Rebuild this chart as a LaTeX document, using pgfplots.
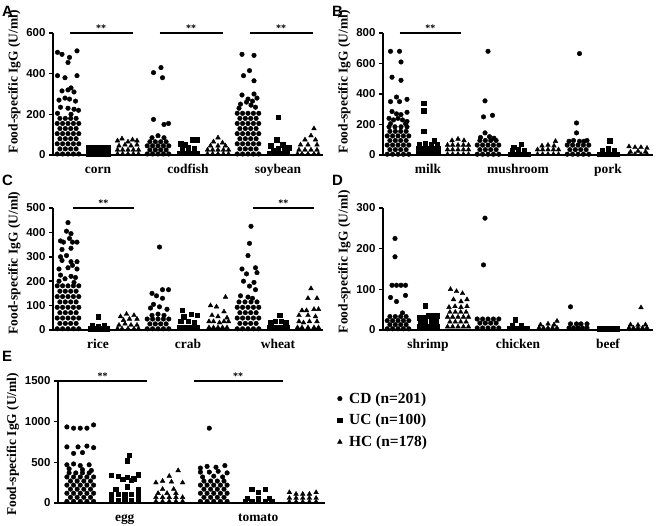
\documentclass[border=0pt]{standalone}
\usepackage{fontspec}
\setmainfont{Liberation Serif}
\setsansfont{Liberation Sans}
\usepackage{pgfplots}
\pgfplotsset{compat=1.18}
\tikzset{
 sig/.style={line width=1.4bp},
 star/.style={font=\fontsize{10}{10}\selectfont\bfseries, above, inner sep=1bp},
}
\pgfplotsset{
 panel/.style={scale only axis, width=270bp, height=122bp,
  axis x line*=bottom, axis y line*=left,
  axis line style={line width=1.8bp},
  xmin=0.5, xmax=9.5, ymin=0, clip=false,
  xtick={2,5,8},
  x tick style={draw=none},
  y tick style={line width=1.5bp, black},
  major tick length=4bp, tick align=outside,
  ylabel={Food-specific IgG (U/ml)},
  ylabel style={at={(ticklabel cs:0.57)}, font=\fontsize{13.5}{14}\selectfont\bfseries, yshift=-1bp},
  x tick label style={font=\fontsize{13.5}{15}\selectfont\bfseries, text height=9.5bp, text depth=3bp, yshift=-1bp},
  y tick label style={font=\fontsize{11.5}{12}\selectfont\sffamily\bfseries},
  /pgf/number format/assume math mode=true,
  /pgf/number format/1000 sep={},
  scaled y ticks=false},
 cd/.style={only marks, mark=*, mark size=2.3bp, black},
 uc/.style={only marks, mark=square*, mark size=2.2bp, black},
 hc/.style={only marks, mark=triangle*, mark size=2.7bp, black},
}
\begin{document}
\begin{tikzpicture}[x=1bp,y=1bp]
\useasboundingbox (0,0) rectangle (661,526);
\node[anchor=north west, inner sep=0, font=\fontsize{15}{15}\selectfont\sffamily\bfseries] at (2,520) {A};
\node[anchor=north west, inner sep=0, font=\fontsize{15}{15}\selectfont\sffamily\bfseries] at (332,520) {B};
\node[anchor=north west, inner sep=0, font=\fontsize{15}{15}\selectfont\sffamily\bfseries] at (2,351) {C};
\node[anchor=north west, inner sep=0, font=\fontsize{15}{15}\selectfont\sffamily\bfseries] at (332,351) {D};
\node[anchor=north west, inner sep=0, font=\fontsize{15}{15}\selectfont\sffamily\bfseries] at (2,175) {E};

% ---------------- A ----------------
\begin{axis}[panel, at={(53bp,371bp)}, anchor=south west, ymax=600, ytick={0,200,400,600},
  xticklabels={corn,codfish,soybean}, ylabel style={at={(ticklabel cs:0.6)}}]
\addplot[cd] coordinates {
(0.64,5)(0.82,5)(1,5)(1.18,5)(1.36,5)(0.73,30)(0.91,30)(1.09,30)(1.27,30)
(0.64,55)(0.82,55)(1,55)(1.18,55)(1.36,55)(0.73,80)(0.91,80)(1.09,80)(1.27,80)
(0.64,105)(0.82,105)(1,105)(1.18,105)(1.36,105)(0.73,130)(0.91,130)(1.09,130)(1.27,130)
(0.64,155)(0.82,155)(1,155)(1.18,155)(1.36,155)(0.73,180)(0.91,180)(1.09,180)(1.27,180)
(0.65,505)(0.8,495)(1.3,512)(1.05,480)(1,455)(0.65,390)(0.9,380)(1.3,390)(1.1,330)(1,320)(0.8,315)(1.2,310)
(0.7,270)(1.05,275)(1.25,265)(0.9,280)(0.75,235)(1,230)(1.2,225)(1.35,220)(0.65,205)(1.1,200)
(3.64,5)(3.82,5)(4,5)(4.18,5)(4.36,5)(3.73,25)(3.91,25)(4.09,25)(4.27,25)
(3.64,45)(3.82,45)(4,45)(4.18,45)(4.36,45)(3.73,65)(3.91,65)(4.09,65)(4.27,65)
(3.8,85)(4,95)(4.2,85)(3.85,405)(4.1,430)(4.15,380)(3.85,175)(4.2,150)(4.35,155)
(6.64,5)(6.82,5)(7,5)(7.18,5)(7.36,5)(6.73,30)(6.91,30)(7.09,30)(7.27,30)
(6.64,55)(6.82,55)(7,55)(7.18,55)(7.36,55)(6.73,80)(6.91,80)(7.09,80)(7.27,80)
(6.64,105)(6.82,105)(7,105)(7.18,105)(7.36,105)(6.73,130)(6.91,130)(7.09,130)(7.27,130)
(6.64,155)(6.82,155)(7,155)(7.18,155)(7.36,155)(6.73,180)(6.91,180)(7.09,180)(7.27,180)
(6.64,205)(6.82,205)(7,205)(7.18,205)(7.36,205)
(6.8,495)(7.2,490)(7.05,415)(6.85,390)(7.2,365)(6.8,295)(7.2,300)(7,275)(7.3,280)(6.75,250)(7.1,245)
(6.7,230)(7.25,235)(6.95,260)(7.15,265)
};
\addplot[uc] coordinates {
(1.67,3)(1.83,3)(2,3)(2.17,3)(2.33,3)(1.67,20)(1.83,20)(2,20)(2.17,20)(2.33,20)(1.67,37)(1.83,37)(2,37)(2.17,37)(2.33,37)
(4.7,10)(4.85,10)(5,10)(5.15,10)(5.3,10)(4.8,30)(5,35)(5.2,30)(4.75,55)(5.15,75)(5.3,75)(4.9,50)
(8,185)(7.95,75)(7.75,45)(8.15,50)(8.35,35)(7.7,10)(7.85,10)(8,10)(8.15,10)(8.3,10)(7.85,25)(8.2,25)(8,30)
};
\addplot[hc] coordinates {
(2.65,5)(2.82,5)(3,5)(3.18,5)(3.35,5)(2.65,25)(2.82,25)(3,25)(3.18,25)(3.35,25)(2.7,45)(2.9,50)(3.1,45)(3.3,50)(2.65,70)(3,65)(3.3,70)(2.8,80)(3.15,75)
(5.65,5)(5.82,5)(6,5)(6.18,5)(6.35,5)(5.65,25)(5.82,25)(6,25)(6.18,25)(6.35,25)(5.75,45)(6,45)(6.25,45)(5.85,65)(6.15,60)(6,85)
(9.2,130)(9.1,95)(8.9,75)(9.25,75)(8.75,50)(9,50)(9.3,50)(8.7,25)(8.9,25)(9.1,25)(9.3,25)(8.65,5)(8.8,5)(9,5)(9.2,5)(9.35,5)
};
\draw[sig] (axis cs:1.05,600) -- (axis cs:3.15,600) node[star, midway] {**};
\draw[sig] (axis cs:4.05,600) -- (axis cs:6.15,600) node[star, midway] {**};
\draw[sig] (axis cs:7.05,600) -- (axis cs:9.15,600) node[star, midway] {**};
\end{axis}

% ---------------- B ----------------
\begin{axis}[panel, at={(383bp,371bp)}, anchor=south west, ymax=800, ytick={0,200,400,600,800},
  xticklabels={milk,mushroom,pork}, ylabel style={at={(ticklabel cs:0.6)}}]
\addplot[cd] coordinates {
(0.64,5)(0.82,5)(1,5)(1.18,5)(1.36,5)(0.73,35)(0.91,35)(1.09,35)(1.27,35)
(0.64,65)(0.82,65)(1,65)(1.18,65)(1.36,65)(0.73,95)(0.91,95)(1.09,95)(1.27,95)
(0.64,125)(0.82,125)(1,125)(1.18,125)(1.36,125)(0.73,155)(0.91,155)(1.09,155)(1.27,155)
(0.7,185)(0.9,185)(1.1,185)(1.3,185)
(0.75,680)(1.05,680)(1.1,610)(0.8,510)(1.1,490)(0.75,350)(1.3,365)(0.95,380)(1.05,350)(0.8,285)(0.95,270)(1.1,265)(1.3,280)
(0.7,240)(0.85,230)(1,240)(1.15,230)(1.3,220)(0.75,205)(1.25,205)
(3.64,5)(3.82,5)(4,5)(4.18,5)(4.36,5)(3.73,35)(3.91,35)(4.09,35)(4.27,35)
(3.64,65)(3.82,65)(4,65)(4.18,65)(4.36,65)(3.73,95)(3.91,95)(4.09,95)(4.27,95)
(4,680)(3.9,355)(3.85,250)(4.15,260)(3.9,145)(4.05,120)(4.2,110)(3.75,115)
(6.64,5)(6.82,5)(7,5)(7.18,5)(7.36,5)(6.73,35)(6.91,35)(7.09,35)(7.27,35)(6.64,65)(6.82,65)(7,65)(7.18,65)(7.36,65)
(7.05,665)(6.95,210)(6.95,145)(6.7,90)(6.85,95)(7.05,90)(7.2,90)(7.3,95)
};
\addplot[uc] coordinates {
(1.85,340)(1.85,290)(1.85,155)(2.2,95)(1.7,70)(1.9,75)(2.1,70)(2.3,70)
(1.67,10)(1.83,10)(2,10)(2.17,10)(2.33,10)(1.67,40)(1.83,40)(2,40)(2.17,40)(2.33,40)
(4.75,5)(4.9,5)(5.05,5)(5.2,5)(5.33,5)(4.8,30)(5,35)(5.2,30)(5.1,70)(4.85,50)
(8.05,95)(7.7,5)(7.85,5)(8,5)(8.15,5)(8.3,5)(7.8,30)(8,40)(8.2,30)
};
\addplot[hc] coordinates {
(2.65,5)(2.82,5)(3,5)(3.18,5)(3.35,5)(2.65,35)(2.82,35)(3,35)(3.18,35)(3.35,35)(2.65,65)(2.82,65)(3,65)(3.18,65)(3.35,65)
(2.8,95)(3,105)(3.2,95)
(5.65,5)(5.82,5)(6,5)(6.18,5)(6.35,5)(5.65,35)(5.82,35)(6,35)(6.18,35)(6.35,35)(5.8,60)(6,65)(6.2,60)(6.25,90)
(8.7,55)(8.9,50)(9.1,50)(9.3,45)(8.75,20)(9,25)(9.25,20)(8.7,5)(8.9,5)(9.1,5)(9.3,5)
};
\draw[sig] (axis cs:1.05,800) -- (axis cs:3.1,800) node[star, midway] {**};
\end{axis}

% ---------------- C ----------------
\begin{axis}[panel, at={(53bp,196bp)}, anchor=south west, ymax=500, ytick={0,100,200,300,400,500},
  xticklabels={rice,crab,wheat}, ylabel style={at={(ticklabel cs:0.55)}}]
\addplot[cd] coordinates {
(0.64,5)(0.82,5)(1,5)(1.18,5)(1.36,5)(0.73,27)(0.91,27)(1.09,27)(1.27,27)
(0.64,49)(0.82,49)(1,49)(1.18,49)(1.36,49)(0.73,71)(0.91,71)(1.09,71)(1.27,71)
(0.64,93)(0.82,93)(1,93)(1.18,93)(1.36,93)(0.73,115)(0.91,115)(1.09,115)(1.27,115)
(0.64,137)(0.82,137)(1,137)(1.18,137)(1.36,137)(0.73,159)(0.91,159)(1.09,159)(1.27,159)
(0.64,181)(0.82,181)(1,181)(1.18,181)(1.36,181)
(1,440)(0.95,405)(1.1,395)(0.75,365)(0.85,360)(1.05,375)(1.15,360)(1.3,360)(0.8,330)(1.1,335)(0.75,300)(0.95,305)
(1.1,280)(1.3,280)(0.8,285)(1.15,265)(0.7,250)(1,255)(1.3,250)(0.75,225)(0.9,210)(1.1,220)(1.25,215)(0.7,200)(1.2,195)
(3.64,5)(3.82,5)(4,5)(4.18,5)(4.36,5)(3.73,25)(3.91,25)(4.09,25)(4.27,25)(3.64,45)(3.82,45)(4,45)(4.18,45)(4.36,45)
(3.8,60)(4,65)(4.2,60)(4.05,340)(3.8,150)(3.95,140)(4.15,165)(4.35,165)(4.15,130)(3.85,105)(4.05,95)(4.3,85)(3.75,90)
(6.64,5)(6.82,5)(7,5)(7.18,5)(7.36,5)(6.73,27)(6.91,27)(7.09,27)(7.27,27)
(6.64,49)(6.82,49)(7,49)(7.18,49)(7.36,49)(6.73,71)(6.91,71)(7.09,71)(7.27,71)
(6.64,93)(6.82,93)(7,93)(7.18,93)(7.36,93)(6.7,115)(6.9,115)(7.1,115)(7.3,115)
(7.1,425)(7.05,355)(7,305)(6.8,250)(7.25,255)(6.95,230)(7.3,235)(6.85,200)(7.2,195)(7.05,180)(7.25,165)(6.75,140)(7,135)(7.15,130)
};
\addplot[uc] coordinates {
(2,55)(1.8,20)(2.2,20)(2,15)(1.75,5)(1.9,5)(2.05,5)(2.2,5)(2.3,5)
(4.8,80)(5.1,65)(5.3,60)(4.85,55)(4.75,35)(5,35)(5.2,30)(4.7,10)(4.85,10)(5,10)(5.15,10)(5.3,10)
(8.05,60)(7.7,10)(7.85,10)(8,10)(8.15,10)(8.3,10)(7.75,30)(7.9,35)(8.1,35)(8.25,30)
};
\addplot[hc] coordinates {
(2.75,55)(2.95,65)(3.2,60)(3.3,45)(2.85,40)(3.05,45)(2.7,20)(2.9,25)(3.1,20)(3.3,20)(2.65,5)(2.8,5)(3,5)(3.2,5)(3.35,5)
(5.75,100)(5.95,95)(6.25,135)(6.2,75)(5.8,60)(6,55)(6.3,50)(5.7,35)(5.85,35)(6.05,30)(6.2,35)(6.35,35)(5.7,10)(5.85,10)(6,10)(6.15,10)(6.3,10)
(9.1,170)(9,130)(9.3,130)(8.8,80)(8.95,80)(9.2,85)(9.35,85)(8.7,60)(9,60)(9.25,55)(8.7,35)(8.85,30)(9.05,35)(9.3,35)(8.65,10)(8.8,10)(9,10)(9.2,10)(9.35,10)
};
\draw[sig] (axis cs:1.15,500) -- (axis cs:3.2,500) node[star, midway] {**};
\draw[sig] (axis cs:7.15,500) -- (axis cs:9.2,500) node[star, midway] {**};
\end{axis}

% ---------------- D ----------------
\begin{axis}[panel, at={(383bp,196bp)}, anchor=south west, ymax=300, ytick={0,100,200,300},
  xticklabels={shrimp,chicken,beef}, ylabel style={at={(ticklabel cs:0.56)}}]
\addplot[cd] coordinates {
(0.64,3)(0.82,3)(1,3)(1.18,3)(1.36,3)(0.73,13)(0.91,13)(1.09,13)(1.27,13)
(0.64,23)(0.82,23)(1,23)(1.18,23)(1.36,23)(0.73,33)(0.91,33)(1.09,33)(1.27,33)
(0.9,225)(0.9,180)(0.8,110)(0.95,110)(1.1,110)(1.25,110)(0.75,80)(1.25,85)(0.95,70)(1.15,42)
(3.64,5)(3.82,5)(4,5)(4.18,5)(4.36,5)(3.73,17)(3.91,17)(4.09,17)(4.27,17)(3.64,27)(3.82,27)(4,27)(4.18,27)(4.36,27)
(3.9,275)(3.85,160)
(6.75,57)(6.7,5)(6.85,5)(7,5)(7.15,5)(7.3,5)(6.75,15)(6.95,15)(7.1,15)(7.3,15)
};
\addplot[uc] coordinates {
(1.9,60)(1.7,30)(1.85,30)(2,35)(2.15,35)(2.3,35)(1.75,20)(1.9,20)(2.1,20)(2.25,20)(1.7,8)(1.85,8)(2,8)(2.15,8)(2.3,8)
(4.9,25)(4.7,5)(4.85,5)(5,5)(5.15,5)(5.3,5)(4.8,12)(5.1,12)
(7.7,3)(7.85,3)(8,3)(8.15,3)(8.3,3)
};
\addplot[hc] coordinates {
(2.75,100)(2.95,95)(3.15,90)(3.3,75)(2.85,75)(3.1,70)
(2.65,8)(2.82,8)(3,8)(3.18,8)(3.35,8)(2.73,20)(2.91,20)(3.09,20)(3.27,20)
(2.65,32)(2.82,32)(3,32)(3.18,32)(3.35,32)(2.73,44)(2.91,44)(3.09,44)(3.27,44)
(2.7,56)(2.9,58)(3.1,56)(3.3,58)
(6.3,22)(5.7,5)(5.85,5)(6,5)(6.15,5)(6.3,5)(5.75,13)(6,15)(6.2,13)
(9.1,55)(8.7,5)(8.85,5)(9,5)(9.15,5)(9.3,5)(8.75,13)(9,12)(9.25,13)
};
\end{axis}

% ---------------- E ----------------
\begin{axis}[panel, at={(58bp,23bp)}, anchor=south west, width=267bp, xmax=6.5,
  ymax=1500, ytick={0,500,1000,1500}, xtick={2,5}, xticklabels={egg,tomato},
  ylabel style={at={(ticklabel cs:0.48)}},
  legend style={at={(1.035,0.94)}, anchor=north west, draw=none, fill=none,
    font=\fontsize{15.5}{17}\selectfont\bfseries, row sep=5.5bp},
  legend cell align=left]
\addplot[cd] coordinates {
(0.7,20)(0.85,20)(1,20)(1.15,20)(1.3,20)(0.78,70)(0.93,70)(1.08,70)(1.23,70)
(0.7,120)(0.85,120)(1,120)(1.15,120)(1.3,120)(0.78,170)(0.93,170)(1.08,170)(1.23,170)
(0.7,220)(0.85,220)(1,220)(1.15,220)(1.3,220)(0.78,270)(0.93,270)(1.08,270)(1.23,270)
(0.7,320)(0.85,320)(1,320)(1.15,320)(1.3,320)(0.75,370)(0.9,370)(1.05,370)(1.2,370)
(0.7,935)(0.85,920)(1,920)(1.15,920)(1.3,960)(0.7,690)(0.85,610)(0.95,690)(1.05,620)(1.15,700)(1.3,680)
(0.7,470)(0.85,480)(1,460)(1.2,470)(0.75,420)(1.05,410)(1.25,400)
(3.9,920)(3.7,430)(3.85,450)(4.05,440)(4.25,460)(3.7,380)(3.9,380)(4.1,390)(4.3,370)(3.75,320)(4,330)(4.2,320)
(3.7,20)(3.85,20)(4,20)(4.15,20)(4.3,20)(3.78,70)(3.93,70)(4.08,70)(4.23,70)
(3.7,120)(3.85,120)(4,120)(4.15,120)(4.3,120)(3.78,170)(3.93,170)(4.08,170)(4.23,170)
(3.7,220)(3.85,220)(4,220)(4.15,220)(4.3,220)(3.78,270)(3.93,270)(4.08,270)(4.23,270)
};
\addlegendentry{\hspace{5bp}CD (n=201)}
\addplot[uc] coordinates {
(2.1,590)(2.05,520)(1.7,340)(1.85,330)(2.05,320)(2.2,300)(2.3,350)(1.95,290)(2.15,280)(2.05,200)(1.8,170)(2.3,170)
(1.7,100)(1.85,110)(2,100)(2.15,110)(2.3,100)(1.7,30)(1.85,30)(2,30)(2.15,30)(2.3,30)
(4.85,170)(5.15,170)(5,130)(4.7,20)(4.85,20)(5,20)(5.15,20)(5.3,20)(4.75,60)(5,60)(5.25,60)
};
\addlegendentry{\hspace{5bp}UC (n=100)}
\addplot[hc] coordinates {
(3.2,400)(3,330)(2.7,250)(2.85,270)(3.05,260)(3.3,250)(2.7,20)(2.85,20)(3,20)(3.15,20)(3.3,20)
(2.7,70)(2.85,70)(3,70)(3.15,70)(3.3,70)(2.75,120)(2.95,120)(3.15,120)(2.85,170)(3.1,170)
(5.7,130)(5.85,110)(6,110)(6.15,110)(6.3,130)(5.7,60)(5.85,60)(6,60)(6.15,60)(6.3,60)(5.7,15)(5.85,15)(6,15)(6.15,15)(6.3,15)
};
\addlegendentry{\hspace{5bp}HC (n=178)}
\draw[sig] (axis cs:0.5,1500) -- (axis cs:2.5,1500) node[star, midway] {**};
\draw[sig] (axis cs:3.55,1500) -- (axis cs:5.55,1500) node[star, midway] {**};
\end{axis}
\end{tikzpicture}
\end{document}
